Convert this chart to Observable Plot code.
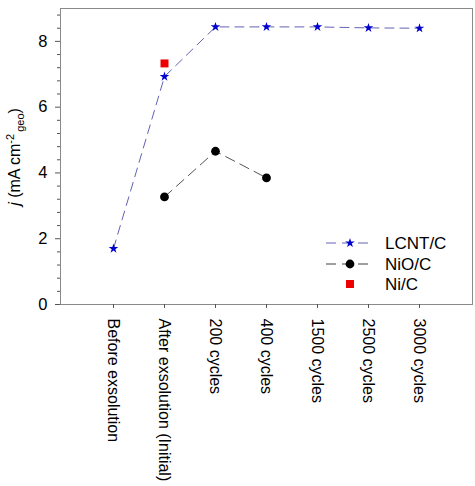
<!DOCTYPE html>
<html><head><meta charset="utf-8">
<script src="https://cdn.jsdelivr.net/npm/d3@7"></script>
<script src="https://cdn.jsdelivr.net/npm/@observablehq/plot@0.6"></script>
<style>
body{margin:0;background:#fff;}
svg{font-family:"Liberation Sans",Arial,sans-serif;}
</style>
</head><body><div id="chart"></div>
<script>
const categories = ["Before exsolution","After exsolution (Initial)","200 cycles","400 cycles","1500 cycles","2500 cycles","3000 cycles"];
const lcntValues = [1.70,6.93,8.44,8.44,8.44,8.41,8.40];
const nioCategories = ["After exsolution (Initial)","200 cycles","400 cycles"];
const nioValues = [3.27,4.66,3.85];
const niCategories = ["After exsolution (Initial)"];
const niValues = [7.33];
const yTicks = [0,2,4,6,8];
const yMinorTicks = [0.4,0.8,1.2,1.6,2.4,2.8,3.2,3.6,4.4,4.8,5.2,5.6,6.4,6.8,7.2,7.6,8.4,8.8];
const seriesNames = ["LCNT/C","NiO/C","Ni/C"];

const lcnt = categories.map((c,i)=>({cat:c, v:lcntValues[i]}));
const nio = nioCategories.map((c,i)=>({cat:c, v:nioValues[i]}));
const ni = niCategories.map((c,i)=>({cat:c, v:niValues[i]}));

const cLcntLine = "#6262b4", cStar = "#0000d0", cNioLine = "#404040", cNi = "#ee0000";

const svg = Plot.plot({
  width: 475, height: 486,
  marginTop: 8, marginBottom: 182, marginLeft: 60, marginRight: 3,
  style: {fontFamily: '"Liberation Sans", Arial, sans-serif', background: "#fff", color: "#000"},
  x: {type: "point", domain: categories, padding: 1},
  y: {domain: [0, 9]},
  marks: [
    Plot.frame({stroke: "#8a8a8a"}),
    Plot.axisY(yTicks, {tickSize: 5, tickPadding: 8, fontSize: 16.5, label: null, stroke: "#555"}),
    Plot.axisY(yMinorTicks, {tickSize: 3, tickFormat: () => "", label: null, stroke: "#555"}),
    Plot.axisX({tickSize: 4, tickPadding: 10, tickRotate: 90, fontSize: 16, label: null, stroke: "#555"}),
    Plot.line(lcnt, {x: "cat", y: "v", stroke: cLcntLine, strokeWidth: 1, strokeDasharray: "9,6"}),
    Plot.line(nio, {x: "cat", y: "v", stroke: cNioLine, strokeWidth: 0.9, strokeDasharray: "10,6"}),
    Plot.dot(ni, {x: "cat", y: "v", symbol: "square", r: 4.5, fill: cNi}),
    Plot.dot(nio, {x: "cat", y: "v", symbol: "circle", r: 4.4, fill: "#000"}),
    Plot.dot(lcnt, {x: "cat", y: "v", symbol: "star", r: 3, fill: cStar})
  ]
});
document.getElementById("chart").appendChild(svg);

const s = d3.select(svg);
// y-axis label
const lab = s.append("text")
  .attr("transform", "translate(20,157) rotate(-90)")
  .attr("text-anchor", "middle")
  .attr("font-size", 16)
  .attr("fill", "#000");
lab.append("tspan").attr("font-style", "italic").text("j");
lab.append("tspan").text(" (mA cm");
lab.append("tspan").attr("font-size", 11).attr("dy", -6).text("-2");
lab.append("tspan").attr("font-size", 11).attr("dy", 10).attr("dx", 2).text("geo");
lab.append("tspan").attr("dy", -4).text(")");

// legend
const lg = s.append("g").attr("font-size", 17).attr("fill", "#000").attr("text-anchor", "start");
const rows = [243, 264, 284];
const x0 = 326, x1 = 369, xm = 350, xt = 385;
lg.append("line").attr("x1", x0).attr("x2", x1).attr("y1", rows[0]).attr("y2", rows[0])
  .attr("stroke", cLcntLine).attr("stroke-dasharray", "10,6");
lg.append("path").attr("transform", `translate(${xm},${rows[0]})`)
  .attr("d", d3.symbol(d3.symbolStar, 3*3*Math.PI)()).attr("fill", cStar);
lg.append("line").attr("x1", x0).attr("x2", x1).attr("y1", rows[1]).attr("y2", rows[1])
  .attr("stroke", cNioLine).attr("stroke-dasharray", "10,6");
lg.append("circle").attr("cx", xm).attr("cy", rows[1]).attr("r", 4.4).attr("fill", "#000");
lg.append("path").attr("transform", `translate(${xm},${rows[2]})`)
  .attr("d", d3.symbol(d3.symbolSquare, 4.5*4.5*Math.PI)()).attr("fill", cNi);
seriesNames.forEach((n,i) => {
  lg.append("text").attr("x", xt).attr("y", rows[i]).attr("dy", "0.35em").attr("text-anchor", "start").text(n);
});
</script>
</body></html>
